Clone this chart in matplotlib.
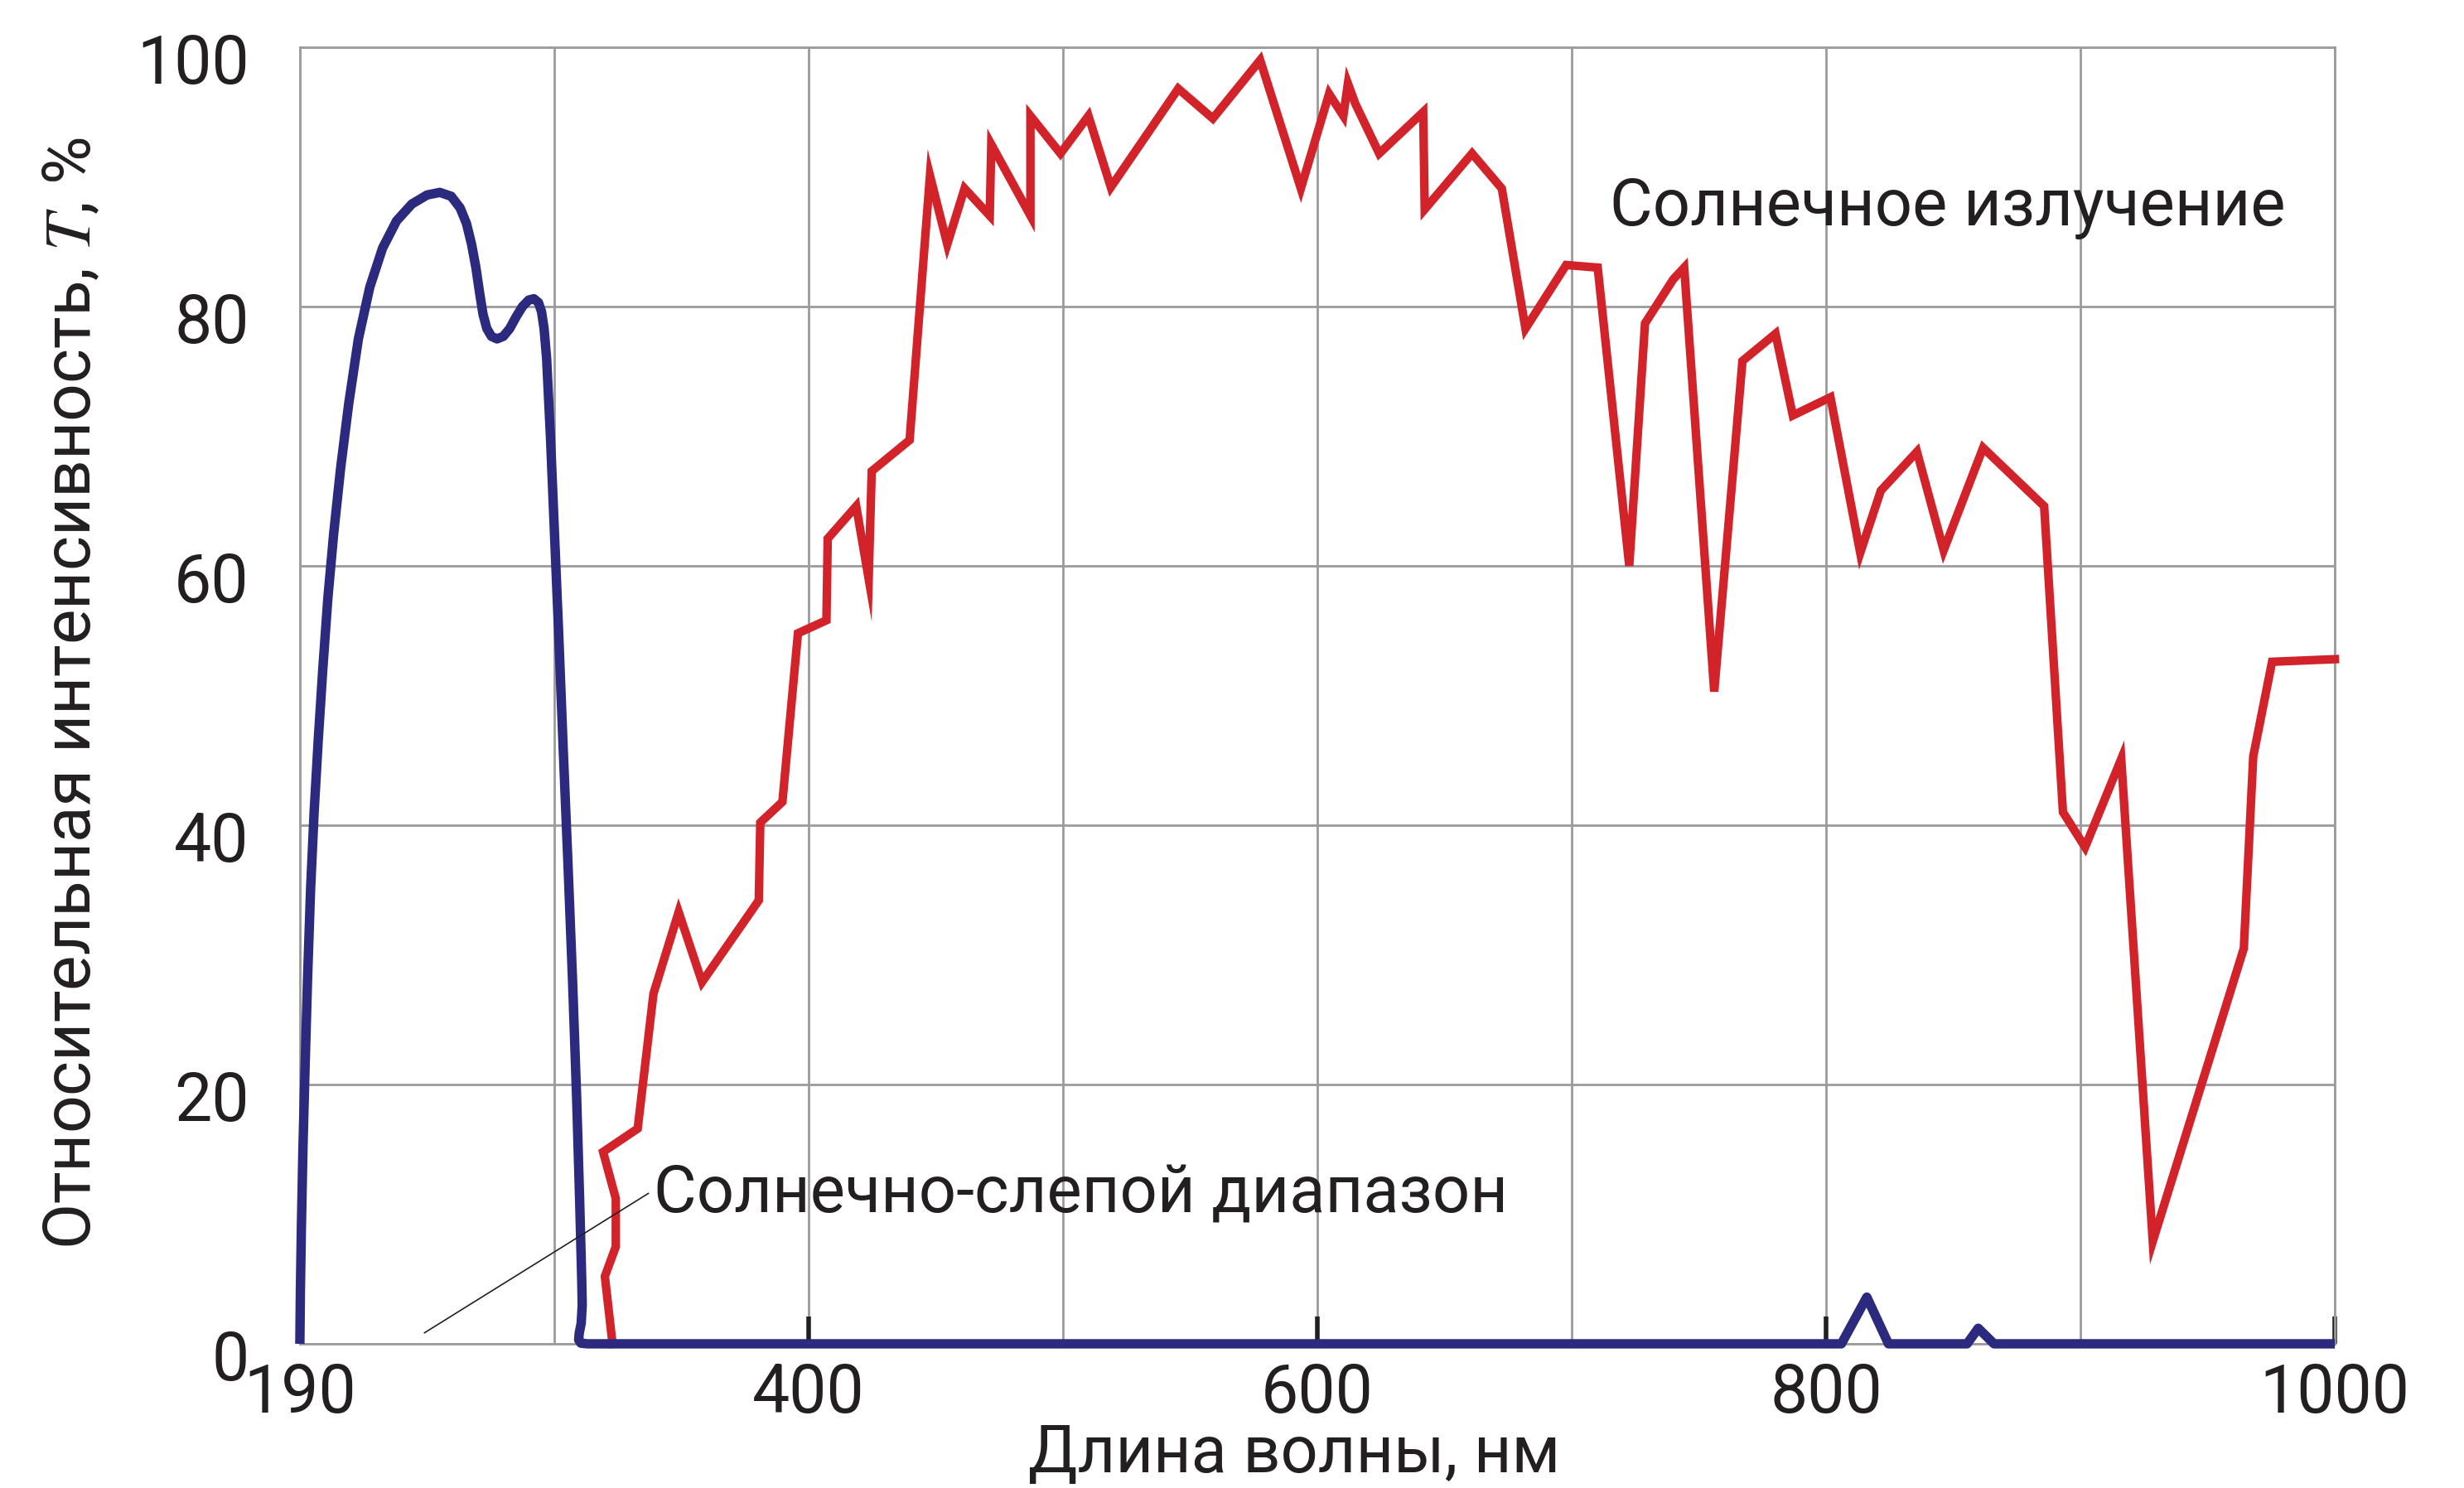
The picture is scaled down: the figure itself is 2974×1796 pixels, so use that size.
import matplotlib
matplotlib.use("Agg")
import matplotlib.pyplot as plt
import matplotlib.transforms as mtransforms

# Solar spectrum (relative intensity, %) vs wavelength, nm
sun_nm = [322.9, 319.9, 324.2, 324.2, 319.2, 332.8, 339.0, 348.9, 358.1, 380.4,
          381.0, 389.7, 395.8, 407.0, 407.5, 418.7, 423.6, 424.8, 439.7, 447.7,
          454.5, 461.3, 471.2, 471.8, 487.2, 487.2, 499.0, 510.0, 518.8, 545.3,
          558.9, 577.5, 593.5, 604.6, 610.2, 612.0, 615.0, 624.3, 641.6, 642.2,
          660.8, 672.5, 681.8, 697.8, 710.2, 722.6, 728.8, 739.9, 744.2, 756.0,
          767.1, 780.1, 786.9, 801.7, 813.4, 821.5, 835.7, 846.2, 861.7, 885.7,
          893.1, 901.8, 916.0, 928.4, 964.2, 967.9, 975.3, 1000.0]
sun_val = [0.0, 5.2, 7.5, 11.2, 14.8, 16.6, 27.0, 33.3, 27.9, 34.2,
           40.2, 41.8, 54.8, 55.8, 62.1, 64.6, 59.0, 67.3, 69.7, 90.1,
           84.8, 89.1, 87.0, 92.5, 87.0, 94.7, 91.8, 94.7, 89.2, 96.8,
           94.5, 99.0, 89.1, 96.4, 94.7, 97.2, 95.6, 91.8, 95.0, 87.5,
           91.8, 89.1, 78.3, 83.2, 83.0, 60.0, 78.7, 82.1, 83.0, 50.3,
           75.8, 77.9, 71.6, 73.0, 61.0, 65.8, 68.8, 61.2, 69.1, 64.6,
           41.0, 38.3, 45.1, 7.9, 30.5, 45.3, 52.6, 52.8]

# Solar-blind filter transmission, %
filt_nm = [200.0, 200.2, 200.6, 201.2, 202.0, 203.0, 204.2, 205.6, 207.2, 209.0,
           211.0, 213.3, 216.0, 219.2, 223.0, 227.5, 232.5, 238.0, 244.0, 250.0,
           255.0, 259.5, 263.0, 265.5, 267.5, 269.2, 270.7, 272.0, 273.5, 275.3,
           277.5, 280.0, 282.5, 285.0, 287.5, 290.0, 292.0, 293.8, 295.0, 296.0,
           297.0, 298.5, 300.2, 301.7, 303.5, 305.4, 307.2, 308.8, 310.0, 310.8,
           311.0, 310.6, 309.8, 309.6, 310.5, 313.0, 320.0, 806.0, 816.0, 824.5,
           855.4, 859.8, 866.0, 1000.0]
filt_val = [0.0, 4.0, 9.0, 15.0, 21.0, 28.0, 35.0, 41.0, 46.5, 52.0,
            57.5, 62.5, 67.5, 72.5, 77.5, 81.5, 84.5, 86.6, 87.9, 88.6,
            88.8, 88.5, 87.6, 86.4, 84.8, 83.0, 81.0, 79.4, 78.3, 77.7,
            77.5, 77.7, 78.3, 79.2, 80.0, 80.5, 80.6, 80.3, 79.6, 78.3,
            76.0, 70.0, 62.0, 55.0, 46.0, 37.0, 28.0, 19.0, 11.0, 5.0,
            3.0, 1.6, 0.8, 0.3, 0.05, 0.0, 0.0, 0.0, 3.6, 0.0,
            0.0, 1.2, 0.0, 0.0]

x_ticks = [200, 400, 600, 800, 1000]
x_tick_labels = ["190", "400", "600", "800", "1000"]
y_ticks = [0, 20, 40, 60, 80, 100]
y_tick_labels = ["0", "20", "40", "60", "80", "100"]

RED = "#D2232A"
NAVY = "#2B2A7E"
INK = "#231F20"
GRID = "#9B9B9D"

plt.rcParams["font.family"] = ["Roboto", "DejaVu Sans"]
plt.rcParams["mathtext.fontset"] = "stix"

fig = plt.figure(figsize=(14.87, 8.98), dpi=200)
ax = fig.add_axes([0.1217, 0.0969, 0.8259, 0.8714])

ax.set_xlim(200, 1000)
ax.set_ylim(0, 100)

ax.set_xticks(range(300, 1001, 100), minor=True)
ax.set_yticks(y_ticks)
ax.set_xticks(x_ticks)
ax.grid(True, which="both", axis="x", color=GRID, lw=1.0, zorder=0)
ax.grid(True, which="major", axis="y", color=GRID, lw=1.0, zorder=0)
for sp in ax.spines.values():
    sp.set_color(GRID)
    sp.set_linewidth(1.0)

ax.set_xticklabels(x_tick_labels, fontsize=29, color=INK)
ax.set_yticklabels(y_tick_labels, fontsize=29, color=INK)
ax.tick_params(axis="x", which="major", direction="in", length=12, width=2.0,
               color=INK, pad=8)
ax.tick_params(axis="x", which="minor", length=0)
ax.tick_params(axis="y", length=0, pad=22)
shift = mtransforms.ScaledTranslation(0, -5 / 72, fig.dpi_scale_trans)
for lab in ax.get_yticklabels():
    lab.set_transform(lab.get_transform() + shift)

ax.plot(sun_nm, sun_val, color=RED, lw=3.7, solid_joinstyle="miter",
        zorder=3, clip_on=False)
ax.plot(filt_nm, filt_val, color=NAVY, lw=4.1, solid_joinstyle="round",
        solid_capstyle="butt", zorder=4, clip_on=False)

ax.text(715, 87.6, "Солнечное излучение", fontsize=28.6, color=INK,
        va="center", ha="left")
ax.text(339, 11.5, "Солнечно-слепой диапазон", fontsize=28.6, color=INK,
        va="center", ha="left")
ax.plot([249, 337], [0.85, 11.6], color=INK, lw=0.6, zorder=5)

ax.set_xlabel("Длина волны, нм", fontsize=28.5, color=INK)
ax.xaxis.set_label_coords(0.4886, -0.099)
ax.xaxis.label.set_va("baseline")

ax.set_ylabel("Относительная интенсивность, $T$, %", fontsize=28.9, color=INK)
ax.yaxis.set_label_coords(-0.112, 0.5016)
ax.yaxis.label.set_va("center")

fig.savefig("out.png", dpi=200, facecolor="white")
